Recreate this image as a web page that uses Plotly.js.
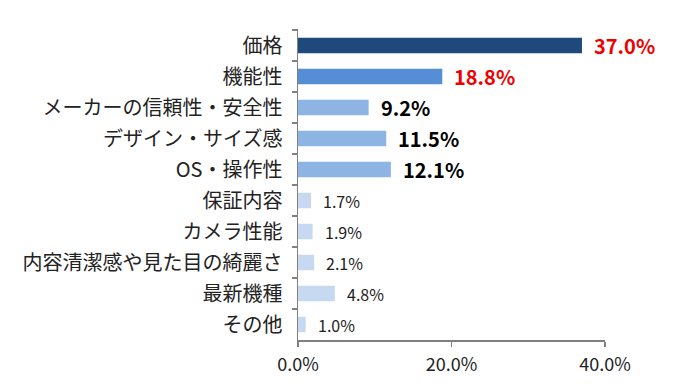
<!DOCTYPE html>
<html>
<head>
<meta charset="utf-8">
<script src="https://cdn.plot.ly/plotly-3.0.1.min.js"></script>
<style>html,body{margin:0;padding:0;background:#fff;}#chart{width:682px;height:392px;}</style>
</head>
<body>
<div id="chart"></div>
<script>
const categories = ["価格","機能性","メーカーの信頼性・安全性","デザイン・サイズ感","OS・操作性","保証内容","カメラ性能","内容清潔感や見た目の綺麗さ","最新機種","その他"];
const values = [37.0, 18.8, 9.2, 11.5, 12.1, 1.7, 1.9, 2.1, 4.8, 1.0];
const barColors = ["#1F497D","#558ED5","#8DB4E2","#8DB4E2","#8DB4E2","#C6D9F1","#C6D9F1","#C6D9F1","#C6D9F1","#C6D9F1"];
const labelColors = ["#EE0000","#EE0000","#000000","#000000","#000000","#222222","#222222","#222222","#222222","#222222"];
const labelBold = [true,true,true,true,true,false,false,false,false,false];
const xTicks = [0, 20, 40];

const font = "Noto Sans CJK JP, sans-serif";

const annotations = categories.map((c, i) => ({
  x: values[i], y: c, xref: 'x', yref: 'y',
  text: labelBold[i] ? '<b>' + values[i].toFixed(1) + '%</b>' : values[i].toFixed(1) + '%',
  showarrow: false, xanchor: 'left', yanchor: 'middle', xshift: 10,
  font: {family: font, size: labelBold[i] ? 20 : 16, color: labelColors[i]}
}));

Plotly.newPlot('chart', [{
  type: 'bar', orientation: 'h',
  x: values, y: categories,
  marker: {color: barColors},
  width: 0.5,
  hoverinfo: 'none'
}], {
  width: 682, height: 392,
  margin: {l: 298, r: 77, t: 29, b: 52, pad: 0},
  paper_bgcolor: '#fff', plot_bgcolor: '#fff',
  showlegend: false,
  font: {family: font, color: '#222'},
  xaxis: {
    range: [0, 40], tickvals: xTicks, ticktext: xTicks.map(v => v.toFixed(1) + '%'),
    showgrid: false, zeroline: false, showline: true, linecolor: '#808080', linewidth: 1.5,
    ticks: 'outside', ticklen: 5, tickwidth: 1.5, tickcolor: '#808080', ticklabelstandoff: 3,
    tickfont: {family: font, size: 18, color: '#222'}, fixedrange: true
  },
  yaxis: {
    autorange: 'reversed', type: 'category',
    showgrid: false, zeroline: false, showline: true, linecolor: '#808080', linewidth: 1.5,
    ticks: 'outside', ticklen: 5, tickwidth: 1.5, tickcolor: '#808080', tickson: 'boundaries',
    tickfont: {family: font, size: 20, color: '#222'}, ticklabelstandoff: 10, fixedrange: true
  },
  annotations: annotations
}, {staticPlot: true, displayModeBar: false});
</script>
</body>
</html>
